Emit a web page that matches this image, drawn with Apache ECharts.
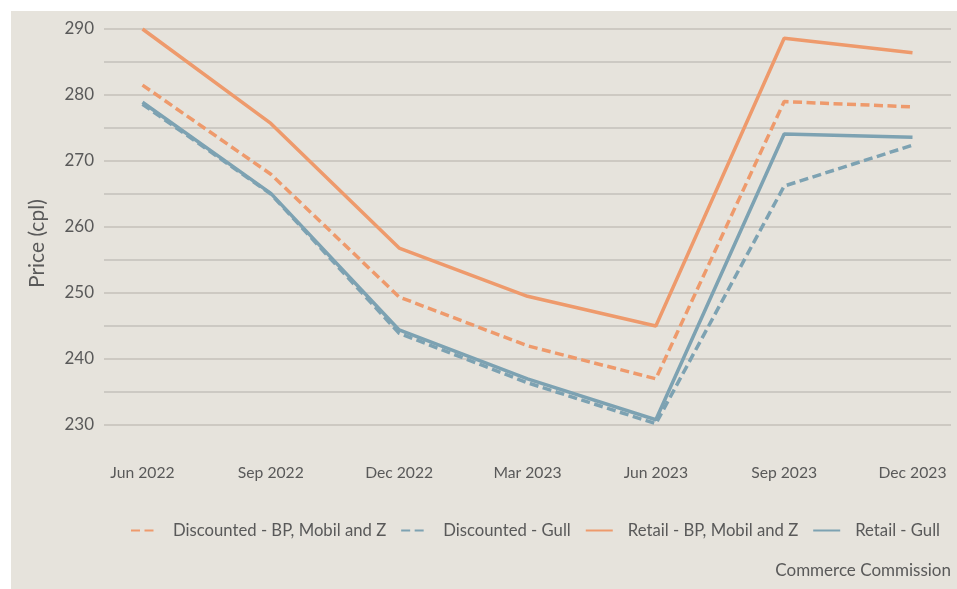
<!DOCTYPE html>
<html><head><meta charset="utf-8">
<script src="https://cdn.jsdelivr.net/npm/echarts@6/dist/echarts.min.js"></script>
<style>
html,body{margin:0;padding:0;background:#ffffff;width:957px;height:589px;overflow:hidden}
#panel{position:absolute;left:11px;top:11px;width:946px;height:578px;background:#e6e3dc}
#c{position:absolute;left:0;top:0;width:957px;height:589px}
</style></head>
<body><div id="panel"></div><div id="c"></div>
<script>
const categories = ['Jun 2022','Sep 2022','Dec 2022','Mar 2023','Jun 2023','Sep 2023','Dec 2023'];
const discountedBP = [281.5, 268.0, 249.4, 242.0, 237.0, 279.0, 278.2];
const discountedGull = [278.6, 265.0, 243.9, 236.4, 230.2, 266.2, 272.4];
const retailBP = [290.0, 275.7, 256.8, 249.5, 245.0, 288.6, 286.4];
const retailGull = [278.9, 265.1, 244.4, 237.0, 230.8, 274.1, 273.6];
const yTicks = [230, 240, 250, 260, 270, 280, 290];

const ORANGE = '#ee9a6c', BLUE = '#7da2b2';
const FONT = 'Lato';
const toPts = arr => arr.map((v, i) => [i, v]);
function ser(name, data, color, dashed) {
  return {
    name, type: 'line', data: toPts(data), symbol: 'none', smooth: false,
    lineStyle: { color, width: 3.5, type: dashed ? [9, 4.5] : 'solid', cap: 'butt' },
    itemStyle: { color }
  };
}
const chart = echarts.init(document.getElementById('c'), null, { renderer: 'canvas' });
chart.setOption({
  animation: false,
  backgroundColor: 'transparent',
  grid: { left: 104, right: 6, top: 29, bottom: 164, containLabel: false },
  xAxis: {
    type: 'value', min: -0.3, max: 6.3,
    axisLine: { show: false }, axisTick: { show: false }, splitLine: { show: false },
    axisLabel: {
      customValues: [0, 1, 2, 3, 4, 5, 6],
      formatter: v => categories[Math.round(v)] || '',
      color: '#595959', fontSize: 15.7, fontFamily: FONT, margin: 40
    }
  },
  yAxis: {
    type: 'value', min: yTicks[0], max: yTicks[yTicks.length - 1], interval: 10,
    axisLine: { show: false }, axisTick: { show: false },
    axisLabel: { color: '#595959', fontSize: 17, fontFamily: FONT, margin: 10 },
    splitLine: { show: true, lineStyle: { color: '#c4c1ba', width: 1.5 } },
    minorTick: { show: false, splitNumber: 2 },
    minorSplitLine: { show: true, lineStyle: { color: '#c4c1ba', width: 1.5 } }
  },
  legend: {
    top: 517, left: 125, itemWidth: 27, itemHeight: 4, itemGap: 14,
    itemStyle: { opacity: 0 },
    textStyle: { color: '#595959', fontSize: 16.7, fontFamily: FONT, padding: [0, 0, 0, 10] },
    data: ['Discounted - BP, Mobil and Z', 'Discounted - Gull', 'Retail - BP, Mobil and Z', 'Retail - Gull']
  },
  graphic: [
    { type: 'text', right: 6, top: 562,
      style: { text: 'Commerce Commission', fill: '#595959', font: '17px Lato' } },
    { type: 'text', x: 27, y: 288, rotation: Math.PI / 2,
      style: { text: 'Price (cpl)', fill: '#595959', font: '21px Lato' } }
  ],
  series: [
    ser('Discounted - BP, Mobil and Z', discountedBP, ORANGE, true),
    ser('Discounted - Gull', discountedGull, BLUE, true),
    ser('Retail - BP, Mobil and Z', retailBP, ORANGE, false),
    ser('Retail - Gull', retailGull, BLUE, false)
  ]
});
</script></body></html>
